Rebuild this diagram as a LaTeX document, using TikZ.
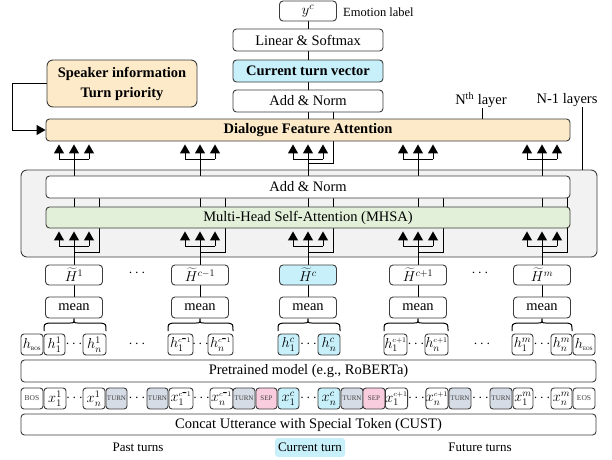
\documentclass[tikz,border=0pt]{standalone}
\usepackage{fontspec}
\setmainfont{Liberation Serif}
\usetikzlibrary{arrows.meta}
\definecolor{orF}{RGB}{252,234,200}
\definecolor{cyF}{RGB}{199,240,251}
\definecolor{grF}{RGB}{226,240,217}
\definecolor{gyF}{RGB}{242,242,242}
\definecolor{tuF}{RGB}{214,220,229}
\definecolor{piF}{RGB}{250,205,222}
\definecolor{bd}{RGB}{60,60,60}
\pgfdeclarelayer{back}
\pgfdeclarelayer{mid}
\pgfsetlayers{back,mid,main}
\newcommand{\myfs}{\fontsize{14.5}{17}\selectfont}
\newcommand{\mytk}{\fontsize{7}{8}\selectfont\color{black!75}}
\newcommand{\mysub}[1]{\mbox{\fontsize{5}{6}\selectfont #1}}
\begin{document}
\begin{tikzpicture}[x=1pt,y=-1pt,
  box/.style={draw=bd, line width=0.9pt, rounded corners=3.5pt, fill=white, inner sep=0pt, font=\myfs, align=center},
  tokb/.style={box, minimum height=21pt, rounded corners=3pt},
  ln/.style={draw=black, line width=1pt},
  arr/.style={ln, -{Triangle[length=9pt,width=10pt]}, shorten >=3pt},
  lab/.style={font=\myfs, inner sep=0pt},
  dts/.style={font=\myfs, inner sep=0pt},
  small/.style={font=\fontsize{13}{15}\selectfont, inner sep=0pt}
]
\useasboundingbox (0,0) rectangle (612,459);

% ---- top column
\node[box, minimum width=57pt, minimum height=20pt] (yc) at (308,11) {$y^c$};
\node[lab, anchor=west, font=\fontsize{12.5}{14}\selectfont] (emo) at (343,12) {Emotion label};
\node[box, minimum width=150pt, minimum height=22pt] (lin) at (308,40) {Linear \& Softmax};
\node[box, fill=cyF, minimum width=150pt, minimum height=22pt, font=\myfs\bfseries] (ctv) at (308,71) {Current turn vector};
\node[box, minimum width=150pt, minimum height=22pt] (an1) at (308,101) {Add \& Norm};
\node[box, fill=orF, minimum width=150pt, minimum height=47pt, rounded corners=6pt, font=\fontsize{14.5}{20}\selectfont\bfseries] (spk) at (122,83.5) {Speaker information\\Turn priority};
\node[box, fill=orF, minimum width=524pt, minimum height=22pt, font=\myfs\bfseries] (dfa) at (308,130) {Dialogue Feature Attention};
\node[lab] (nth) at (481,100) {N\textsuperscript{th} layer};
\node[lab] (nm1) at (567,100) {N-1 layers};

% ---- N-1 layers block
\begin{pgfonlayer}{back}
\node[draw=bd, line width=0.9pt, fill=gyF, rounded corners=6pt, minimum width=576pt, minimum height=87pt, inner sep=0pt] (grp) at (309,213.5) {};
\end{pgfonlayer}
\node[box, minimum width=524pt, minimum height=22pt] (an2) at (308,187) {Add \& Norm};
\node[box, fill=grF, minimum width=524pt, minimum height=21pt] (mhsa) at (308,217.5) {Multi-Head Self-Attention (MHSA)};

% ---- turn vectors
\node[box, minimum width=57pt, minimum height=20pt] (Ht1) at (74,275) {$\widetilde{H}^{1}$};
\node[box, minimum width=57pt, minimum height=20pt] (Ht2) at (200,275) {$\widetilde{H}^{c-1}$};
\node[box, minimum width=57pt, minimum height=20pt, fill=cyF] (Ht3) at (308,275) {$\widetilde{H}^{c}$};
\node[box, minimum width=57pt, minimum height=20pt] (Ht4) at (418,275) {$\widetilde{H}^{c+1}$};
\node[box, minimum width=57pt, minimum height=20pt] (Ht5) at (542,275) {$\widetilde{H}^{m}$};
\node[dts] (hd1) at (137,273) {$\cdots$};
\node[dts] (hd2) at (480,273) {$\cdots$};
\foreach \i/\c in {1/74,2/200,3/308,4/418,5/542}
  \node[box, minimum width=57pt, minimum height=21pt] (mn\i) at (\c,307.5) {mean};

% ---- hidden states row
\node[tokb, minimum width=22pt] (hb) at (32,344.5) {$h_{\mysub{BOS}}$};
\node[tokb, minimum width=21pt] (h11) at (54.5,344.5) {$h_1^1$};
\node[tokb, minimum width=23pt] (h1n) at (94.5,344.5) {$h_n^1$};
\node[tokb, minimum width=25pt] (h21) at (180.5,344.5) {$h_1^{\scriptscriptstyle c\mbox{-}1}$};
\node[tokb, minimum width=25pt] (h2n) at (220.5,344.5) {$h_n^{\scriptscriptstyle c\mbox{-}1}$};
\node[tokb, minimum width=21pt, fill=cyF] (h31) at (288.5,344.5) {$h_1^c$};
\node[tokb, minimum width=22pt, fill=cyF] (h3n) at (329,344.5) {$h_n^c$};
\node[tokb, minimum width=23pt] (h41) at (395.5,344.5) {$h_1^{\scriptscriptstyle c+1}$};
\node[tokb, minimum width=23pt] (h4n) at (436.5,344.5) {$h_n^{\scriptscriptstyle c+1}$};
\node[tokb, minimum width=21pt] (h51) at (522.5,344.5) {$h_1^m$};
\node[tokb, minimum width=21pt] (h5n) at (561.5,344.5) {$h_n^m$};
\node[tokb, minimum width=22pt] (he) at (584,344.5) {$h_{\mysub{EOS}}$};
\foreach \x in {74,200.5,308.5,416,542,137,482}
  \node[dts] at (\x,344) {$\cdots$};

\node[box, minimum width=575pt, minimum height=22pt] (pre) at (308.5,371) {Pretrained model (e.g., RoBERTa)};

% ---- token row
\node[tokb, minimum width=22pt] (bos) at (32,398.5) {\fontsize{7.5}{8}\selectfont\color{black!75}BOS};
\node[tokb, minimum width=22pt] (x11) at (55,398.5) {$x_1^1$};
\node[tokb, minimum width=22pt] (x1n) at (94,398.5) {$x_n^1$};
\node[tokb, minimum width=21pt, fill=tuF] (t1) at (116.5,398.5) {\mytk TURN};
\node[tokb, minimum width=21pt, fill=tuF] (t2) at (157.5,398.5) {\mytk TURN};
\node[tokb, minimum width=24pt] (x21) at (181,398.5) {$x_1^{\scriptscriptstyle c\mbox{-}1}$};
\node[tokb, minimum width=23pt] (x2n) at (221.5,398.5) {$x_n^{\scriptscriptstyle c\mbox{-}1}$};
\node[tokb, minimum width=22pt, fill=tuF] (t3) at (244,398.5) {\mytk TURN};
\node[tokb, minimum width=21pt, fill=piF] (s1) at (266.5,398.5) {\mytk SEP};
\node[tokb, minimum width=21pt, fill=cyF] (x31) at (288.5,398.5) {$x_1^c$};
\node[tokb, minimum width=22pt, fill=cyF] (x3n) at (329,398.5) {$x_n^c$};
\node[tokb, minimum width=22pt, fill=tuF] (t4) at (352,398.5) {\mytk TURN};
\node[tokb, minimum width=22pt, fill=piF] (s2) at (374,398.5) {\mytk SEP};
\node[tokb, minimum width=21pt] (x41) at (396.5,398.5) {$x_1^{\scriptscriptstyle c+1}$};
\node[tokb, minimum width=22pt] (x4n) at (437,398.5) {$x_n^{\scriptscriptstyle c+1}$};
\node[tokb, minimum width=22pt, fill=tuF] (t5) at (460,398.5) {\mytk TURN};
\node[tokb, minimum width=22pt, fill=tuF] (t6) at (501,398.5) {\mytk TURN};
\node[tokb, minimum width=20pt] (x51) at (523,398.5) {$x_1^m$};
\node[tokb, minimum width=21pt] (x5n) at (561.5,398.5) {$x_n^m$};
\node[tokb, minimum width=22pt] (eos) at (584,398.5) {\fontsize{7.5}{8}\selectfont\color{black!75}EOS};
\foreach \x in {74.5,137,201.5,308.5,416.5,480.5,542}
  \node[dts] at (\x,398) {$\cdots$};

\node[box, minimum width=575pt, minimum height=21pt] (cat) at (308.5,424.5) {Concat Utterance with Special Token (CUST)};

% ---- bottom labels
\node[small] (past) at (138,447) {Past turns};
\node[small, fill=cyF, rounded corners=3pt, minimum width=70pt, minimum height=19pt] (cur) at (310,447.5) {Current turn};
\node[small] (fut) at (480,447) {Future turns};

% ---- connectors
\begin{pgfonlayer}{mid}
\foreach \i/\c in {1/74,2/200,3/308,4/418,5/542}{
  \draw[ln] (mn\i.north) -- (Ht\i.south);
  \draw[ln] (Ht\i.north) -- (\c,246);
  \draw[ln] (\c-15,246) -- (\c+15,246);
  \foreach \d in {-15,0,15}{
    \draw[arr] (\c+\d,246) -- (\c+\d,246 |- mhsa.south);
  }
  \draw[ln] (\c,252) -- (\c+25,252) -- (\c+25,252 |- an2.south);
  \draw[ln] (\c,0 |- mhsa.north) -- (\c,0 |- an2.south);
  \draw[ln] (\c,0 |- an2.north) -- (\c,159);
  \draw[ln] (\c-15,159) -- (\c+15,159);
  \foreach \d in {-15,0,15}{
    \draw[arr] (\c+\d,159) -- (\c+\d,159 |- dfa.south);
  }
}
\draw[ln] (308,163) -- (333,163) -- (333,163 |- an1.south);
\draw[ln] (308,0 |- dfa.north) -- (an1.south);
\draw[ln] (an1.north) -- (ctv.south);
\draw[ln] (ctv.north) -- (lin.south);
\draw[ln] (lin.north) -- (yc.south);
\draw[ln, -{Triangle[length=9pt,width=10pt]}] (spk.west) -- ++(-34,0) |- (dfa.west);
\draw[ln] (482,0 |- nth.south) -- (482,0 |- dfa.north);
\draw[ln] (582,0 |- nm1.south) -- (582,0 |- grp.north);
% braces
\foreach \i/\c/\L/\R in {1/74/44/106, 2/200/168/233, 3/308/278/340, 4/418/384/448, 5/542/512/572}{
  \draw[ln] (\L,331) .. controls (\L,324) .. (\L+5,323) -- (\c-4,323) .. controls (\c,323) .. (mn\i.south) .. controls (\c,323) .. (\c+4,323) -- (\R-5,323) .. controls (\R,324) .. (\R,331);
}
\end{pgfonlayer}
\end{tikzpicture}
\end{document}
